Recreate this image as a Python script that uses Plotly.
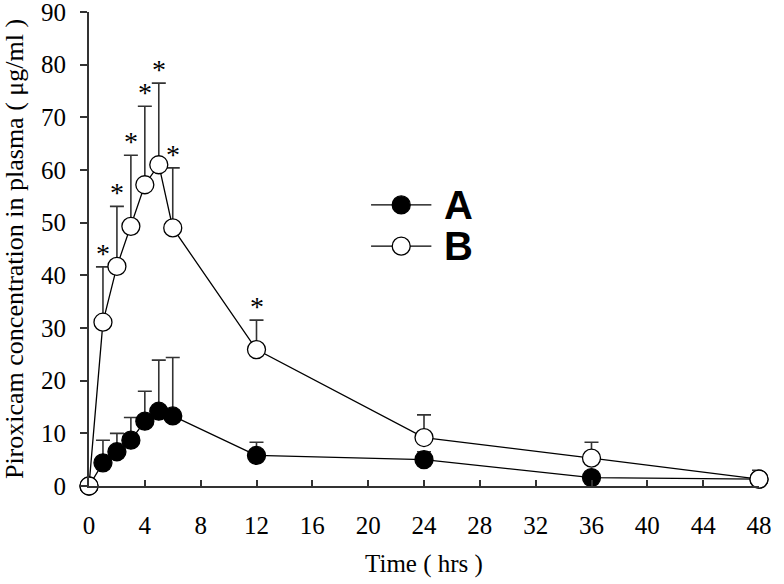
import plotly.graph_objects as go

time_hrs = [0, 1, 2, 3, 4, 5, 6, 12, 24, 36, 48]
conc_A = [0, 4.4, 6.5, 8.7, 12.3, 14.2, 13.3, 5.8, 5.0, 1.6, 1.3]
err_A = [0, 4.3, 3.5, 4.3, 5.7, 9.7, 11.1, 2.5, 1.5, 0, 0]
conc_B = [0, 31.1, 41.7, 49.3, 57.2, 61.0, 49.0, 25.9, 9.2, 5.3, 1.3]
err_B = [0, 10.5, 11.4, 13.5, 14.9, 15.5, 11.4, 5.6, 4.3, 3.0, 1.7]
signif_B = [False, True, True, True, True, True, True, True, False, False, False]

fig = go.Figure()

line_style = dict(color="black", width=1.3)
err_style = dict(type="data", arrayminus=[0] * len(time_hrs), symmetric=False,
                 color="#333333", thickness=1.6, width=7)

fig.add_trace(go.Scatter(
    x=time_hrs, y=conc_A, mode="lines+markers", name="A",
    line=line_style,
    marker=dict(symbol="circle", size=18, color="black", line=dict(color="black", width=1.3)),
    error_y=dict(err_style, array=err_A),
    cliponaxis=False, showlegend=False,
))
fig.add_trace(go.Scatter(
    x=time_hrs, y=conc_B, mode="lines+markers", name="B",
    line=line_style,
    marker=dict(symbol="circle", size=18, color="white", line=dict(color="black", width=1.3)),
    error_y=dict(err_style, array=err_B),
    cliponaxis=False, showlegend=False,
))

# significance asterisks above the B error bars
for t, c, e, s in zip(time_hrs, conc_B, err_B, signif_B):
    if s:
        fig.add_annotation(x=t, y=c + e, text="*", showarrow=False,
                           xanchor="center", yanchor="bottom", yshift=-4,
                           font=dict(family="Liberation Serif", size=28, color="black"))

# manual legend
legend_items = [("A", "black", 0.593), ("B", "white", 0.506)]
for label, fill, yy in legend_items:
    fig.add_shape(type="line", xref="paper", yref="paper",
                  x0=0.421, x1=0.511, y0=yy, y1=yy, line=dict(color="black", width=1.3))
    fig.add_shape(type="circle", xref="paper", yref="paper",
                  xsizemode="pixel", ysizemode="pixel", xanchor=0.466, yanchor=yy,
                  x0=-9, x1=9, y0=-9, y1=9,
                  fillcolor=fill, line=dict(color="black", width=1.3))
    fig.add_annotation(xref="paper", yref="paper", x=0.527, y=yy, text="<b>%s</b>" % label,
                       showarrow=False, xanchor="left", yanchor="middle",
                       font=dict(family="Liberation Sans", size=40, color="black"))

fig.update_layout(
    width=784, height=584,
    margin=dict(l=89, r=25, t=12, b=98),
    paper_bgcolor="white", plot_bgcolor="white",
    font=dict(family="Liberation Serif", size=25, color="black"),
    showlegend=False,
)
fig.update_xaxes(
    range=[0, 48], tickvals=list(range(0, 49, 4)),
    showline=True, linecolor="#333333", linewidth=2,
    ticks="inside", ticklen=6, tickwidth=2, tickcolor="#333333",
    showgrid=False, zeroline=False, ticklabelstandoff=16,
    automargin=False, ticklabeloverflow="allow",
    title=dict(text="Time ( hrs )", font=dict(size=25), standoff=16),
)
fig.update_yaxes(
    range=[0, 90], tickvals=list(range(0, 91, 10)),
    showline=True, linecolor="#333333", linewidth=2,
    ticks="outside", ticklen=7, tickwidth=2, tickcolor="#333333",
    showgrid=False, zeroline=False, ticklabelstandoff=9,
    automargin=False, ticklabeloverflow="allow",
    title=dict(text="Piroxicam concentration in plasma ( μg/ml )", font=dict(size=26), standoff=14),
)

fig.write_html("out.html", config={"displayModeBar": False},
               post_script="document.body.style.margin='0px';")
